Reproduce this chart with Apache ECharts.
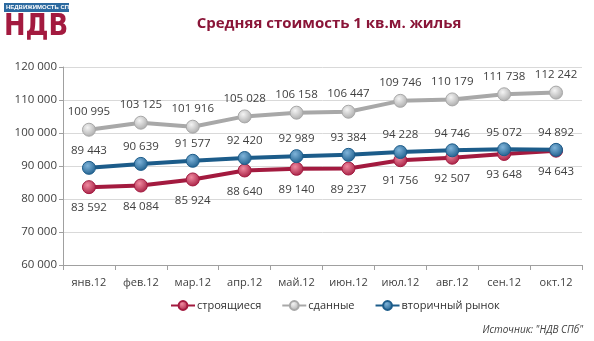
<!DOCTYPE html>
<html><head><meta charset="utf-8">
<script src="https://cdn.jsdelivr.net/npm/echarts@6/dist/echarts.min.js"></script>
<style>html,body{margin:0;padding:0;background:#fff}#c{width:594px;height:341px}</style>
</head><body><div id="c"></div>
<script>
const categories = ['янв.12','фев.12','мар.12','апр.12','май.12','июн.12','июл.12','авг.12','сен.12','окт.12'];
const building = [83592, 84084, 85924, 88640, 89140, 89237, 91756, 92507, 93648, 94643];
const completed = [100995, 103125, 101916, 105028, 106158, 106447, 109746, 110179, 111738, 112242];
const secondary = [89443, 90639, 91577, 92420, 92989, 93384, 94228, 94746, 95072, 94892];
const seriesNames = ['строящиеся', 'сданные', 'вторичный рынок'];
const titleText = 'Средняя стоимость 1 кв.м. жилья';
const sourceText = 'Источник: "НДВ СПб"';

const fmt = v => String(v).replace(/\B(?=(\d{3})+(?!\d))/g, ' ');
const FONT = 'Open Sans';
function grad(light, dark){
  return {type:'radial', x:0.4, y:0.35, r:0.7, colorStops:[{offset:0,color:light},{offset:1,color:dark}]};
}
function mk(name, data, color, light, pos, dist){
  return {
    name, type:'line', data, symbol:'circle', symbolSize:13,
    lineStyle:{color, width:4},
    itemStyle:{color:grad(light, color), borderColor:color, borderWidth:1},
    label:{show:true, position:pos, distance:dist, formatter:p=>fmt(p.value), color:'#404040', fontSize:11.5, fontFamily:FONT},
    emphasis:{disabled:true}, animation:false
  };
}
const chart = echarts.init(document.getElementById('c'));
chart.setOption({
  backgroundColor:'#fff',
  title:{text:titleText, left:324, top:11, textAlign:'center',
    textStyle:{color:'#8A1538', fontSize:15, fontWeight:'bold', fontFamily:FONT}},
  grid:{left:63, right:12, top:67, bottom:76},
  legend:{data:seriesNames, bottom:25, left:165, itemWidth:24, itemHeight:11, itemGap:20,
    textStyle:{color:'#303030', fontSize:11, fontFamily:FONT, padding:[0,0,0,-3]}},
  xAxis:{type:'category', data:categories, boundaryGap:true,
    axisLine:{lineStyle:{color:'#A0A0A0'}}, axisTick:{show:true, alignWithLabel:false, lineStyle:{color:'#A0A0A0'}},
    axisLabel:{color:'#404040', fontSize:11, fontFamily:FONT, margin:12, interval:0}},
  yAxis:{type:'value', min:60000, max:120000, interval:10000,
    axisLine:{show:true, lineStyle:{color:'#A0A0A0'}}, axisTick:{show:true, length:4, lineStyle:{color:'#A0A0A0'}},
    splitLine:{lineStyle:{color:'#D9D9D9'}},
    axisLabel:{color:'#404040', fontSize:11.5, fontFamily:FONT, formatter:v=>fmt(v), margin:6}},
  series:[
    mk(seriesNames[0], building, '#A31A3F', '#F08AA0', 'bottom', 8),
    mk(seriesNames[1], completed, '#A8A8A8', '#F4F4F4', 'top', 5),
    mk(seriesNames[2], secondary, '#1C5C8A', '#7FB4DA', 'top', 4)
  ],
  graphic:[
    {type:'rect', left:4, top:3, shape:{width:65, height:9}, style:{fill:'#2C6AA0'}},
    {type:'text', left:6, top:4, style:{text:'НЕДВИЖИМОСТЬ СПБ', fill:'#fff', font:'bold 6px "Liberation Sans", sans-serif'}},
    {type:'text', left:4, top:12, scaleX:0.86, style:{text:'НДВ', fill:'#A31A3F', font:'bold 30px "DejaVu Sans", sans-serif'}},
    {type:'text', right:11, top:325, style:{text:sourceText, fill:'#404040', font:'italic 10px "Open Sans", sans-serif'}}
  ]
});
</script></body></html>
